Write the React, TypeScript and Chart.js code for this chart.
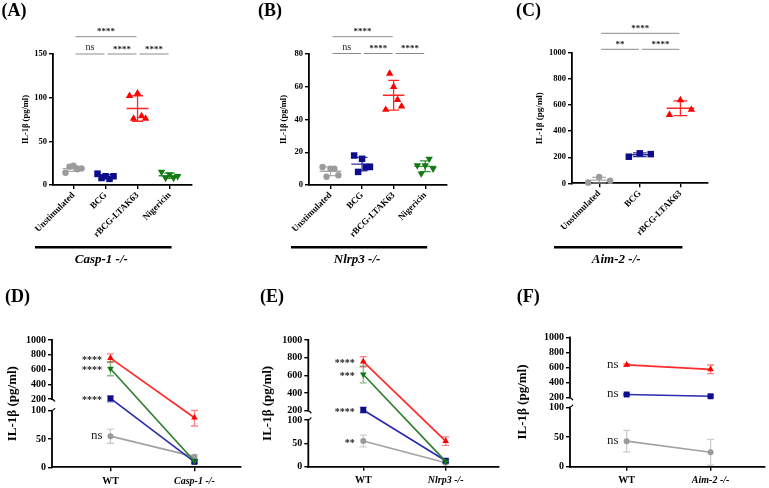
import React, { useEffect, useRef } from 'react';
import { Chart, registerables, LinearScale } from 'chart.js';

const SERIF = "'Liberation Serif', 'Times New Roman', Times, serif";

// ---------- IL-1β (pg/ml) per mouse, knockout macrophages ----------
const groupNamesFour = ['Unstimulated', 'BCG', 'rBCG-LTAK63', 'Nigericin'];
const groupNamesThree = ['Unstimulated', 'BCG', 'rBCG-LTAK63'];

const casp1Unstimulated = [14, 21, 22, 18, 19];
const casp1BCG = [13, 8, 10, 7, 10];
const casp1LTAK63 = [102, 76, 105, 79, 76];
const casp1Nigericin = [15, 8, 12, 8, 10];

const nlrp3Unstimulated = [11, 5, 10, 10, 6];
const nlrp3BCG = [18, 8, 16, 11, 11];
const nlrp3LTAK63 = [46, 68, 60, 52, 48];
const nlrp3Nigericin = [12, 7, 12, 16, 10];

const aim2Unstimulated = [5, 48, 20];
const aim2BCG = [204, 230, 224];
const aim2LTAK63 = [525, 638, 565];

// ---------- wild-type summaries (mean ± SD) ----------
const pairedStimuli = ['rBCG-LTAK63', 'Nigericin', 'BCG', 'Unstimulated'];
const wtMean = [755, 610, 208, 55];
const wtSD = [58, 95, 32, 12.5];
const casp1Significance = ['****', '****', '****', 'ns'];
const nlrp3Significance = ['****', '***', '****', '**'];

const aim2PairedStimuli = ['rBCG-LTAK63', 'BCG', 'Unstimulated'];
const aim2WtMean = [635, 243, 43];
const aim2WtSD = [15, 10, 18];
const aim2Significance = ['ns', 'ns', 'ns'];

const brokenAxisTicks = [0, 50, 100, 200, 400, 600, 800, 1000];

// ---------- styling ----------
type StimStyle = { color: string; line: string; marker: string; rotation: number; radius: number; smallRadius: number };
const STIM_STYLE: Record<string, StimStyle> = {
  Unstimulated: { color: '#9b9b9b', line: '#a2a2a2', marker: 'circle', rotation: 0, radius: 3.2, smallRadius: 3 },
  BCG: { color: '#0d0d8c', line: '#2c2cb0', marker: 'rect', rotation: 0, radius: 4.6, smallRadius: 4.2 },
  'rBCG-LTAK63': { color: '#ff0000', line: '#ff2a2a', marker: 'triangle', rotation: 0, radius: 4.3, smallRadius: 3.8 },
  Nigericin: { color: '#137a13', line: '#2f7f2f', marker: 'triangle', rotation: 180, radius: 4.3, smallRadius: 3.8 },
};

function mean(a: number[]) {
  return a.reduce((s, v) => s + v, 0) / a.length;
}
function sd(a: number[]) {
  const m = mean(a);
  return Math.sqrt(a.reduce((s, v) => s + (v - m) * (v - m), 0) / (a.length - 1));
}
function withAlpha(hex: string, a: number) {
  const n = parseInt(hex.slice(1), 16);
  return `rgba(${(n >> 16) & 255},${(n >> 8) & 255},${n & 255},${a})`;
}
function spreadOffsets(n: number, half: number): number[] {
  if (n < 2) return [0];
  return Array.from({ length: n }, (_, k) => -half + (2 * half * k) / (n - 1));
}

// Linear axis with a gap between two value ranges (lower segment / upper segment)
class BrokenLinearScale extends LinearScale {
  static id = 'brokenLinear';
  static defaults = LinearScale.defaults;

  fractionOf(v: number): number {
    const b = (this.options as any).breakAxis;
    const min = this.min;
    const max = this.max;
    if (v <= b.low) return ((v - min) / (b.low - min)) * b.lowFrac;
    if (v >= b.high) return b.highFrac + ((v - b.high) / (max - b.high)) * (1 - b.highFrac);
    return b.lowFrac + ((v - b.low) / (b.high - b.low)) * (b.highFrac - b.lowFrac);
  }
  getPixelForValue(v: number): number {
    if (v === null || v === undefined || isNaN(v)) return NaN;
    return this.bottom - this.fractionOf(v) * (this.bottom - this.top);
  }
  getValueForPixel(pixel: number): number {
    const b = (this.options as any).breakAxis;
    const f = (this.bottom - pixel) / (this.bottom - this.top);
    if (f <= b.lowFrac) return this.min + (f / b.lowFrac) * (b.low - this.min);
    if (f >= b.highFrac) return b.high + ((f - b.highFrac) / (1 - b.highFrac)) * (this.max - b.high);
    return b.low + ((f - b.lowFrac) / (b.highFrac - b.lowFrac)) * (b.high - b.low);
  }
}

Chart.register(...registerables, BrokenLinearScale);
Chart.defaults.font.family = SERIF;
Chart.defaults.color = '#000';

type Box = { left: number; top: number; width: number; height: number };
type Area = { left: number; top: number; right: number; bottom: number };

// ---------- dot plots (A–C) ----------
interface DotSpec {
  letter: string;
  letterPos: [number, number];
  genotype: string;
  names: string[];
  values: number[][];
  yMax: number;
  yStep: number;
  xRange: [number, number];
  spreadHalf: number;
  box: Box;
  area: Area;
  titleSize: number;
  titlePad: number;
  brackets: { from: number; to: number; row: number; text: string }[];
  rowY: number[];
}

function buildDotChart(spec: DotSpec): any {
  const { box, area } = spec;
  const groups = spec.names.map((name, i) => ({ name, values: spec.values[i], st: STIM_STYLE[name] }));

  const datasets = groups.map((g, gi) => {
    const offs = spreadOffsets(g.values.length, spec.spreadHalf);
    return {
      label: g.name,
      data: g.values.map((v, k) => ({ x: gi + offs[k], y: v })),
      pointStyle: g.st.marker,
      pointRotation: g.st.rotation,
      pointRadius: g.st.radius,
      pointBackgroundColor: g.st.color,
      pointBorderColor: g.st.color,
      pointBorderWidth: 0,
      showLine: false,
      clip: false,
    };
  });

  const decor = {
    id: 'dotDecor',
    beforeDatasetsDraw(chart: any) {
      const { ctx } = chart;
      const x = chart.scales.x;
      const y = chart.scales.y;
      ctx.save();
      groups.forEach((g, gi) => {
        const m = mean(g.values);
        const s = sd(g.values);
        const xc = x.getPixelForValue(gi);
        const half = x.getPixelForValue(gi + 0.34) - xc;
        const cap = x.getPixelForValue(gi + 0.17) - xc;
        const ym = y.getPixelForValue(m);
        const yt = y.getPixelForValue(m + s);
        const yb = y.getPixelForValue(m - s);
        ctx.strokeStyle = withAlpha(g.st.color, 0.85);
        ctx.lineWidth = 1.3;
        ctx.beginPath();
        ctx.moveTo(xc - half, ym);
        ctx.lineTo(xc + half, ym);
        ctx.moveTo(xc, yt);
        ctx.lineTo(xc, yb);
        ctx.moveTo(xc - cap, yt);
        ctx.lineTo(xc + cap, yt);
        ctx.moveTo(xc - cap, yb);
        ctx.lineTo(xc + cap, yb);
        ctx.stroke();
      });
      ctx.restore();
    },
    afterDraw(chart: any) {
      const { ctx } = chart;
      const x = chart.scales.x;
      ctx.save();
      // significance brackets
      spec.brackets.forEach((b) => {
        const x1 = x.getPixelForValue(b.from) + 2;
        const x2 = x.getPixelForValue(b.to) - 1;
        const yy = spec.rowY[b.row];
        ctx.strokeStyle = '#8c8c8c';
        ctx.lineWidth = 1;
        ctx.beginPath();
        ctx.moveTo(x1, yy);
        ctx.lineTo(x2, yy);
        ctx.stroke();
        const stars = b.text.includes('*');
        ctx.font = stars ? `bold 9px ${SERIF}` : `10px ${SERIF}`;
        ctx.fillStyle = '#222';
        ctx.textAlign = 'center';
        ctx.textBaseline = 'alphabetic';
        ctx.fillText(b.text, (x1 + x2) / 2, yy - (stars ? 2.5 : 4));
      });
      // genotype bar and label
      const bx1 = area.left - 18;
      const bx2 = x.getPixelForValue(groups.length - 1) + 2;
      ctx.strokeStyle = '#000';
      ctx.lineWidth = 2.6;
      ctx.beginPath();
      ctx.moveTo(bx1, 247.3);
      ctx.lineTo(bx2, 247.3);
      ctx.stroke();
      ctx.fillStyle = '#000';
      ctx.font = `italic bold 13px ${SERIF}`;
      ctx.textAlign = 'center';
      ctx.fillText(spec.genotype, (bx1 + bx2) / 2 - 2, 263);
      // panel letter
      ctx.font = `bold 18px ${SERIF}`;
      ctx.textAlign = 'left';
      ctx.fillText(spec.letter, spec.letterPos[0], spec.letterPos[1]);
      ctx.restore();
    },
  };

  return {
    type: 'scatter',
    data: { datasets },
    options: {
      responsive: false,
      animation: false,
      events: [],
      layout: { padding: { left: 0, top: area.top, right: box.width - area.right, bottom: 0 } },
      plugins: { legend: { display: false }, tooltip: { enabled: false } },
      scales: {
        x: {
          type: 'linear',
          min: spec.xRange[0],
          max: spec.xRange[1],
          afterBuildTicks: (s: any) => {
            s.ticks = groups.map((_, i) => ({ value: i }));
          },
          afterFit: (s: any) => {
            s.height = box.height - area.bottom;
            s.paddingLeft = 0;
            s.paddingRight = 0;
          },
          ticks: {
            autoSkip: false,
            minRotation: 45,
            maxRotation: 45,
            padding: 1,
            color: '#000',
            font: { family: SERIF, size: 9, weight: 'bold' },
            callback: (v: number) => spec.names[Math.round(v)] ?? '',
          },
          grid: { drawOnChartArea: false, drawTicks: true, tickLength: 4, color: '#000', lineWidth: 1.4 },
          border: { display: true, color: '#000', width: 1.8 },
        },
        y: {
          type: 'linear',
          min: 0,
          max: spec.yMax,
          afterFit: (s: any) => {
            s.width = area.left;
          },
          ticks: {
            stepSize: spec.yStep,
            padding: 2,
            color: '#000',
            font: { family: SERIF, size: 8.5, weight: 'bold' },
            callback: (v: number) => String(v),
          },
          title: {
            display: true,
            text: 'IL-1β (pg/ml)',
            color: '#000',
            font: { family: SERIF, size: spec.titleSize, weight: 'bold' },
            padding: { top: spec.titlePad, bottom: 0 },
          },
          grid: { drawOnChartArea: false, drawTicks: true, tickLength: 4, color: '#000', lineWidth: 1.4 },
          border: { display: true, color: '#000', width: 1.8 },
        },
      },
    },
    plugins: [decor],
  };
}

// ---------- wild type vs knockout (D–F) ----------
interface PairedSpec {
  letter: string;
  letterPos: [number, number];
  genotype: string;
  stimuli: string[];
  wt: number[];
  wtErr: number[];
  ko: number[][];
  significance: string[];
  xRange: [number, number];
  breakFrac: [number, number];
  box: Box;
  area: Area;
}

function buildPairedChart(spec: PairedSpec): any {
  const { box, area } = spec;
  const datasets = spec.stimuli.map((stim, i) => {
    const st = STIM_STYLE[stim];
    return {
      label: stim,
      data: [
        { x: 0, y: spec.wt[i] },
        { x: 1, y: mean(spec.ko[i]) },
      ],
      errors: [spec.wtErr[i], sd(spec.ko[i])],
      borderColor: st.line,
      borderWidth: 1.7,
      pointStyle: st.marker,
      pointRotation: st.rotation,
      pointRadius: st.smallRadius,
      pointBackgroundColor: st.color,
      pointBorderColor: st.color,
      pointBorderWidth: 0,
      fill: false,
      tension: 0,
      clip: false,
    };
  });

  const decor = {
    id: 'pairedDecor',
    beforeDatasetsDraw(chart: any) {
      const { ctx } = chart;
      const y = chart.scales.y;
      ctx.save();
      chart.data.datasets.forEach((ds: any, di: number) => {
        const meta = chart.getDatasetMeta(di);
        const st = STIM_STYLE[ds.label];
        ds.data.forEach((p: any, k: number) => {
          const e = ds.errors[k];
          const px = meta.data[k].x;
          const yt = y.getPixelForValue(p.y + e);
          const yb = y.getPixelForValue(Math.max(p.y - e, 0));
          ctx.strokeStyle = withAlpha(st.color, 0.5);
          ctx.lineWidth = 1.3;
          ctx.beginPath();
          ctx.moveTo(px, yt);
          ctx.lineTo(px, yb);
          ctx.moveTo(px - 3.5, yt);
          ctx.lineTo(px + 3.5, yt);
          ctx.moveTo(px - 3.5, yb);
          ctx.lineTo(px + 3.5, yb);
          ctx.stroke();
        });
      });
      ctx.restore();
    },
    afterDraw(chart: any) {
      const { ctx } = chart;
      const y = chart.scales.y;
      const ax = chart.chartArea.left;
      ctx.save();
      // broken y axis: two segments
      ctx.strokeStyle = '#000';
      ctx.lineWidth = 1.8;
      const p0 = y.getPixelForValue(0);
      const p100 = y.getPixelForValue(100);
      const p200 = y.getPixelForValue(200);
      const pTop = y.getPixelForValue(1000);
      ctx.beginPath();
      ctx.moveTo(ax, p0 + 0.9);
      ctx.lineTo(ax, p100);
      ctx.moveTo(ax, p200);
      ctx.lineTo(ax, pTop - 0.9);
      ctx.stroke();
      // little hooks marking the break
      ctx.lineWidth = 1.3;
      ctx.beginPath();
      ctx.moveTo(ax - 1, p200);
      ctx.quadraticCurveTo(ax + 2, p200 + 0.5, ax + 3, p200 + 2.5);
      ctx.moveTo(ax - 1, p100);
      ctx.quadraticCurveTo(ax + 2, p100 - 0.5, ax + 3, p100 - 2.5);
      ctx.stroke();
      // significance labels beside the wild-type points
      chart.data.datasets.forEach((ds: any, di: number) => {
        const meta = chart.getDatasetMeta(di);
        const pt = meta.data[0];
        const text = spec.significance[di];
        const stars = text.includes('*');
        ctx.fillStyle = '#222';
        ctx.textAlign = 'right';
        ctx.textBaseline = 'alphabetic';
        if (stars) {
          ctx.font = `bold 10px ${SERIF}`;
          ctx.fillText(text, pt.x - 8.5, pt.y + 4.6);
        } else {
          ctx.font = `13px ${SERIF}`;
          ctx.fillText(text, pt.x - 8, pt.y + 3);
        }
      });
      // panel letter
      ctx.fillStyle = '#000';
      ctx.font = `bold 18px ${SERIF}`;
      ctx.textAlign = 'left';
      ctx.fillText(spec.letter, spec.letterPos[0], spec.letterPos[1]);
      ctx.restore();
    },
  };

  return {
    type: 'line',
    data: { datasets },
    options: {
      responsive: false,
      animation: false,
      events: [],
      layout: { padding: { left: 0, top: area.top, right: box.width - area.right, bottom: 0 } },
      plugins: { legend: { display: false }, tooltip: { enabled: false } },
      scales: {
        x: {
          type: 'linear',
          min: spec.xRange[0],
          max: spec.xRange[1],
          afterBuildTicks: (s: any) => {
            s.ticks = [{ value: 0 }, { value: 1 }];
          },
          afterFit: (s: any) => {
            s.height = box.height - area.bottom;
            s.paddingLeft = 0;
            s.paddingRight = 0;
          },
          ticks: {
            autoSkip: false,
            maxRotation: 0,
            padding: 4,
            color: '#000',
            font: (ctx: any) => ({
              family: SERIF,
              size: 10,
              weight: 'bold',
              style: ctx.index === 1 ? 'italic' : 'normal',
            }),
            callback: (v: number) => (Math.round(v) === 0 ? 'WT' : spec.genotype),
          },
          grid: { drawOnChartArea: false, drawTicks: true, tickLength: 4, color: '#000', lineWidth: 1.4 },
          border: { display: true, color: '#000', width: 1.8 },
        },
        y: {
          type: 'brokenLinear',
          min: 0,
          max: 1000,
          breakAxis: { low: 100, high: 200, lowFrac: spec.breakFrac[0], highFrac: spec.breakFrac[1] },
          afterBuildTicks: (s: any) => {
            s.ticks = brokenAxisTicks.map((v) => ({ value: v }));
          },
          afterFit: (s: any) => {
            s.width = area.left;
          },
          ticks: {
            padding: 2,
            color: '#000',
            font: { family: SERIF, size: 10, weight: 'bold' },
            callback: (v: number) => String(v),
          },
          title: {
            display: true,
            text: 'IL-1β (pg/ml)',
            color: '#000',
            font: { family: SERIF, size: 13, weight: 'bold' },
            padding: { top: 5, bottom: 0 },
          },
          grid: { drawOnChartArea: false, drawTicks: true, tickLength: 4, color: '#000', lineWidth: 1.4 },
          border: { display: false },
        },
      },
    },
    plugins: [decor],
  };
}

// ---------- panel specifications ----------
const fourGroupBrackets = [
  { from: 0, to: 1, row: 0, text: 'ns' },
  { from: 1, to: 2, row: 0, text: '****' },
  { from: 2, to: 3, row: 0, text: '****' },
  { from: 0, to: 2, row: 1, text: '****' },
];

const buildA = () =>
  buildDotChart({
    letter: '(A)',
    letterPos: [1.5, 15.7],
    genotype: 'Casp-1 -/-',
    names: groupNamesFour,
    values: [casp1Unstimulated, casp1BCG, casp1LTAK63, casp1Nigericin],
    yMax: 150,
    yStep: 50,
    xRange: [-0.64, 3.7],
    spreadHalf: 0.25,
    box: { left: 0, top: 0, width: 255, height: 272 },
    area: { left: 53, top: 54, right: 192, bottom: 185 },
    titleSize: 8.5,
    titlePad: 20.5,
    brackets: fourGroupBrackets,
    rowY: [54, 36.7],
  });

const buildB = () =>
  buildDotChart({
    letter: '(B)',
    letterPos: [3, 15.7],
    genotype: 'Nlrp3 -/-',
    names: groupNamesFour,
    values: [nlrp3Unstimulated, nlrp3BCG, nlrp3LTAK63, nlrp3Nigericin],
    yMax: 80,
    yStep: 20,
    xRange: [-0.68, 3.69],
    spreadHalf: 0.25,
    box: { left: 255, top: 0, width: 255, height: 272 },
    area: { left: 54, top: 54, right: 192, bottom: 185 },
    titleSize: 8.5,
    titlePad: 24,
    brackets: fourGroupBrackets,
    rowY: [53.5, 36.7],
  });

const buildC = () =>
  buildDotChart({
    letter: '(C)',
    letterPos: [6, 15.7],
    genotype: 'Aim-2 -/-',
    names: groupNamesThree,
    values: [aim2Unstimulated, aim2BCG, aim2LTAK63],
    yMax: 1000,
    yStep: 200,
    xRange: [-0.67, 2.68],
    spreadHalf: 0.27,
    box: { left: 510, top: 0, width: 259, height: 272 },
    area: { left: 62, top: 53, right: 198, bottom: 183.3 },
    titleSize: 9,
    titlePad: 24.5,
    brackets: [
      { from: 0, to: 1, row: 0, text: '**' },
      { from: 1, to: 2, row: 0, text: '****' },
      { from: 0, to: 2, row: 1, text: '****' },
    ],
    rowY: [49.3, 33.3],
  });

const buildD = () =>
  buildPairedChart({
    letter: '(D)',
    letterPos: [5, 29.7],
    genotype: 'Casp-1 -/-',
    stimuli: pairedStimuli,
    wt: wtMean,
    wtErr: wtSD,
    ko: [casp1LTAK63, casp1Nigericin, casp1BCG, casp1Unstimulated],
    significance: casp1Significance,
    xRange: [-0.696, 1.554],
    breakFrac: [0.4446, 0.5365],
    box: { left: 0, top: 272, width: 255, height: 216 },
    area: { left: 52, top: 68, right: 241, bottom: 195.3 },
  });

const buildE = () =>
  buildPairedChart({
    letter: '(E)',
    letterPos: [5, 29.7],
    genotype: 'Nlrp3 -/-',
    stimuli: pairedStimuli,
    wt: wtMean,
    wtErr: wtSD,
    ko: [nlrp3LTAK63, nlrp3Nigericin, nlrp3BCG, nlrp3Unstimulated],
    significance: nlrp3Significance,
    xRange: [-0.667, 1.647],
    breakFrac: [0.3686, 0.442],
    box: { left: 255, top: 272, width: 255, height: 216 },
    area: { left: 53.3, top: 68, right: 244, bottom: 194.7 },
  });

const buildF = () =>
  buildPairedChart({
    letter: '(F)',
    letterPos: [6.7, 30],
    genotype: 'Aim-2 -/-',
    stimuli: aim2PairedStimuli,
    wt: aim2WtMean,
    wtErr: aim2WtSD,
    ko: [aim2LTAK63, aim2BCG, aim2Unstimulated],
    significance: aim2Significance,
    xRange: [-0.675, 1.646],
    breakFrac: [0.459, 0.533],
    box: { left: 510, top: 272, width: 259, height: 216 },
    area: { left: 60, top: 65.3, right: 255, bottom: 194.7 },
  });

function ChartBox({ box, build }: { box: Box; build: () => any }) {
  const ref = useRef<HTMLCanvasElement | null>(null);
  useEffect(() => {
    if (!ref.current) return;
    const chart = new Chart(ref.current, build());
    return () => chart.destroy();
  }, [build]);
  return (
    <canvas
      ref={ref}
      width={box.width}
      height={box.height}
      style={{ position: 'absolute', left: box.left, top: box.top, width: box.width, height: box.height }}
    />
  );
}

export default function App() {
  return (
    <div style={{ position: 'absolute', left: 0, top: 0, width: 769, height: 488, background: '#fff', overflow: 'hidden' }}>
      <ChartBox box={{ left: 0, top: 0, width: 255, height: 272 }} build={buildA} />
      <ChartBox box={{ left: 255, top: 0, width: 255, height: 272 }} build={buildB} />
      <ChartBox box={{ left: 510, top: 0, width: 259, height: 272 }} build={buildC} />
      <ChartBox box={{ left: 0, top: 272, width: 255, height: 216 }} build={buildD} />
      <ChartBox box={{ left: 255, top: 272, width: 255, height: 216 }} build={buildE} />
      <ChartBox box={{ left: 510, top: 272, width: 259, height: 216 }} build={buildF} />
    </div>
  );
}
